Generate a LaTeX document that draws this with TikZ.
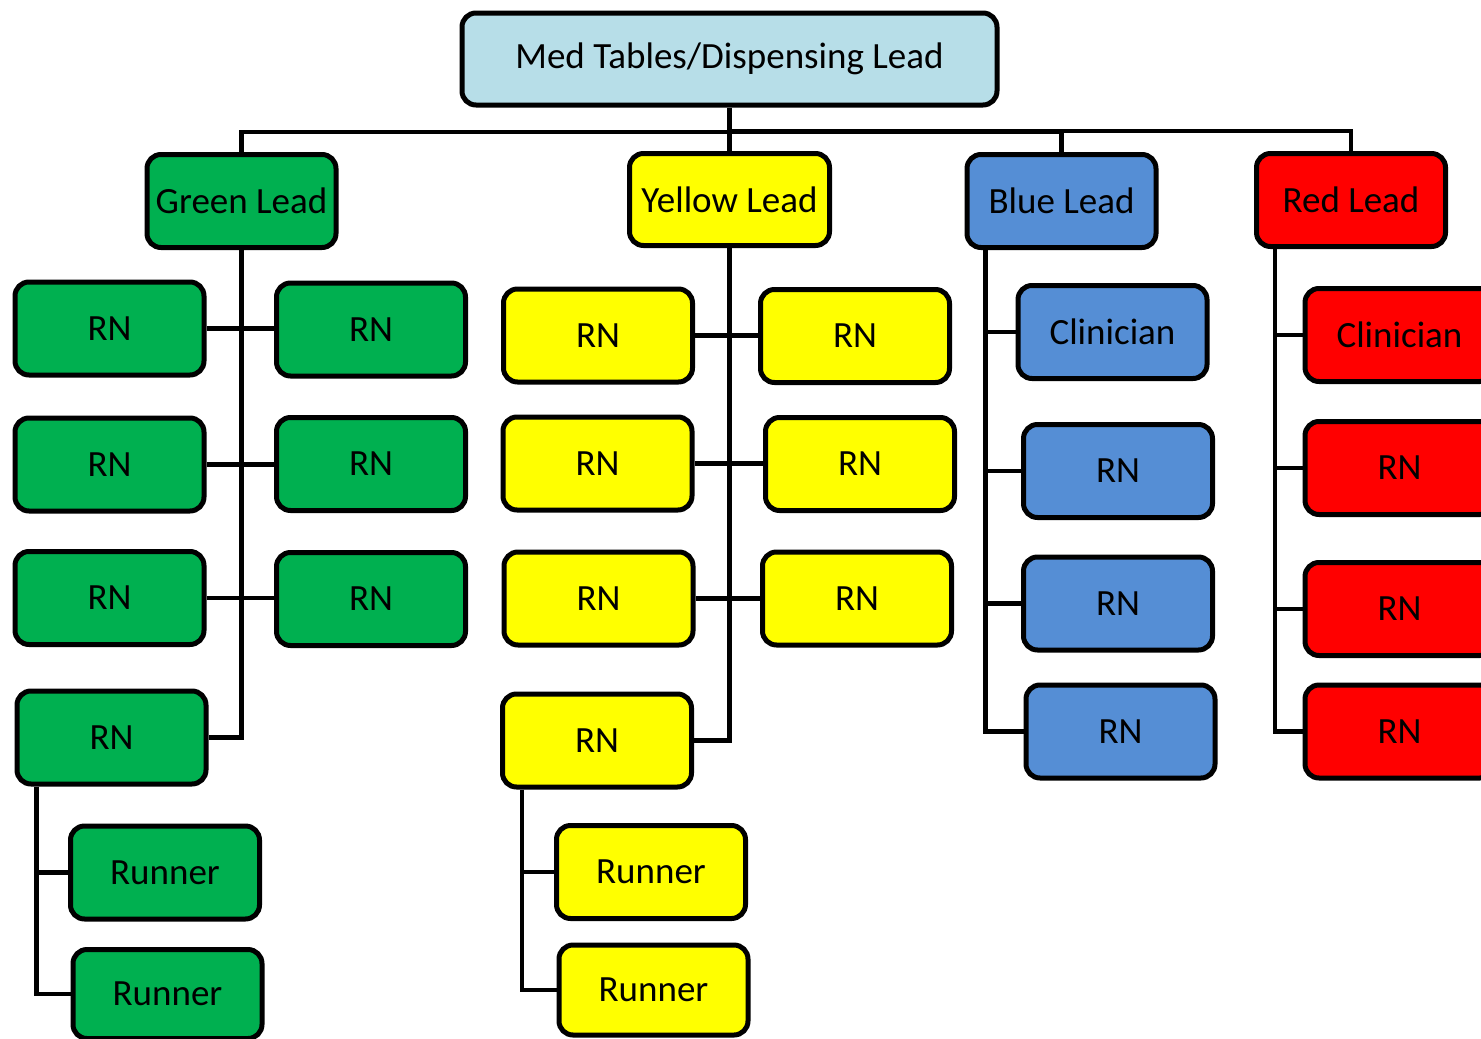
\documentclass[tikz,border=0pt]{standalone}
\usepackage{fontspec}
\setmainfont{Carlito}
\definecolor{cgreen}{HTML}{00B050}
\definecolor{cyellow}{HTML}{FFFF00}
\definecolor{cblue}{HTML}{558ED5}
\definecolor{cred}{HTML}{FF0000}
\definecolor{ctop}{HTML}{B7DEE8}
\begin{document}
\begin{tikzpicture}[x=1pt,y=-1pt,
  box/.style={draw=black, line width=5pt, rounded corners=14pt, minimum width=189pt, minimum height=93pt, inner sep=0pt, font=\fontsize{37}{44}\selectfont, text=black},
  gbox/.style={box, fill=cgreen},
  ybox/.style={box, fill=cyellow},
  bbox/.style={box, fill=cblue},
  rbox/.style={box, fill=cred},
  conn/.style={draw=black, line width=4.5pt, line join=miter}]
\useasboundingbox (0,0) rectangle (1481,1039);
\clip (0,0) rectangle (1481,1039);
\fill[white] (0,0) rectangle (1481,1039);

% top
\node[box, fill=ctop, minimum width=535pt, minimum height=92pt] (top) at (729.5,59) {Med Tables/Dispensing Lead};
% leads
\node[gbox] (glead) at (241.5,201) {Green Lead};
\node[ybox, minimum width=200pt, minimum height=92pt] (ylead) at (729.5,199.5) {Yellow Lead};
\node[bbox] (blead) at (1061.5,201) {Blue Lead};
\node[rbox] (rlead) at (1351,200) {Red Lead};
\coordinate (bus) at (730,132);

% green
\node[gbox] (g1) at (109.5,328.5) {RN};
\node[gbox] (g2) at (371,329.5) {RN};
\node[gbox] (g3) at (109.5,464.5) {RN};
\node[gbox] (g4) at (371,464) {RN};
\node[gbox] (g5) at (109.5,598) {RN};
\node[gbox] (g6) at (371,599) {RN};
\node[gbox] (g7) at (111.5,737.5) {RN};
\node[gbox] (gr1) at (165,872.5) {Runner};
\node[gbox, minimum height=89pt] (gr2) at (167.5,994) {Runner};

% yellow
\node[ybox] (y1) at (598,335.5) {RN};
\node[ybox] (y2) at (855,336) {RN};
\node[ybox] (y3) at (597.5,463.5) {RN};
\node[ybox] (y4) at (860,464) {RN};
\node[ybox] (y5) at (598.5,598.5) {RN};
\node[ybox] (y6) at (857,598.5) {RN};
\node[ybox] (y7) at (597,740.5) {RN};
\node[ybox] (yr1) at (651,872) {Runner};
\node[ybox, minimum height=90pt] (yr2) at (653.5,990) {Runner};

% blue
\node[bbox] (b1) at (1112.5,332) {Clinician};
\node[bbox] (b2) at (1118,471) {RN};
\node[bbox] (b3) at (1118,603.5) {RN};
\node[bbox] (b4) at (1120.5,731.5) {RN};

% red
\node[rbox] (r1) at (1399.5,335) {Clinician};
\node[rbox] (r2) at (1399.5,468) {RN};
\node[rbox] (r3) at (1399.5,609) {RN};
\node[rbox] (r4) at (1399.5,731.5) {RN};

% trunk coordinates
\coordinate (gtr) at ([xshift=-75pt]g7.south);
\coordinate (ytr) at ([xshift=-75pt]y7.south);
\coordinate (btr) at ([xshift=-76pt]blead.south);
\coordinate (rtr) at ([xshift=-76pt]rlead.south);

% top level connectors
\draw[conn] (glead.north) -- (glead.north |- bus) -- (blead.north |- bus);
\draw[conn] ([yshift=1pt]bus) -| (rlead.north);
\draw[conn] (blead.north |- bus) -- (blead.north);
\draw[conn] (top.south) -- (ylead.north);

% green connectors
\draw[conn] (glead.south) -- (glead.south |- g7.east) -- (g7.east);
\draw[conn] (g1.east) -- (g1.east -| g2.west);
\draw[conn] (g3.east) -- (g3.east -| g4.west);
\draw[conn] (g5.east) -- (g5.east -| g6.west);
\draw[conn] (gtr) -- (gtr |- gr2.west) -- (gr2.west);
\draw[conn] (gr1.west) -- (gr1.west -| gtr);

% yellow connectors
\draw[conn] (ylead.south) -- (ylead.south |- y7.east) -- (y7.east);
\draw[conn] (y1.east) -- (y1.east -| y2.west);
\draw[conn] (y3.east) -- (y3.east -| y4.west);
\draw[conn] (y5.east) -- (y5.east -| y6.west);
\draw[conn] (ytr) -- (ytr |- yr2.west) -- (yr2.west);
\draw[conn] (yr1.west) -- (yr1.west -| ytr);

% blue connectors
\draw[conn] (btr) -- (btr |- b4.west) -- (b4.west);
\draw[conn] (b1.west) -- (b1.west -| btr);
\draw[conn] (b2.west) -- (b2.west -| btr);
\draw[conn] (b3.west) -- (b3.west -| btr);

% red connectors
\draw[conn] (rtr) -- (rtr |- r4.west) -- (r4.west);
\draw[conn] (r1.west) -- (r1.west -| rtr);
\draw[conn] (r2.west) -- (r2.west -| rtr);
\draw[conn] (r3.west) -- (r3.west -| rtr);
\end{tikzpicture}
\end{document}
